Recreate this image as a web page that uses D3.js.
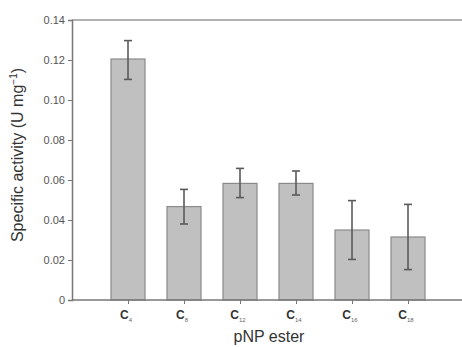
<!DOCTYPE html>
<html>
<head>
<meta charset="utf-8">
<script src="https://cdn.jsdelivr.net/npm/d3@7"></script>
<style>
  body { margin: 0; background: #fff; }
  svg { font-family: "Liberation Sans", Arial, sans-serif; }
</style>
</head>
<body>
<div id="content"></div>
<script>
// chain lengths of the pNP esters
const esters = ["4", "8", "12", "14", "16", "18"];
const activity = [0.1205, 0.0467, 0.0583, 0.0583, 0.035, 0.0315];
const errUpper = [0.1297, 0.0553, 0.0658, 0.0645, 0.0497, 0.0478];
const errLower = [0.1103, 0.038, 0.0512, 0.0525, 0.0203, 0.0152];
const yTicks = [0, 0.02, 0.04, 0.06, 0.08, 0.10, 0.12, 0.14];

const svgWidth = 462, svgHeight = 347;
const margin = { top: 20, left: 72, bottom: 47 };

const svg = d3.select("#content")
    .append("svg")
    .attr("width", svgWidth)
    .attr("height", svgHeight);

const x = d3.scalePoint()
    .domain(esters)
    .range([margin.left, 464])
    .padding(1);

const y = d3.scaleLinear()
    .domain([0, 0.14])
    .range([svgHeight - margin.bottom, margin.top]);

const barW = 34;
const axisColor = "#777";

// top border of the frame
svg.append("line")
    .attr("x1", margin.left).attr("x2", svgWidth)
    .attr("y1", y(0.14)).attr("y2", y(0.14))
    .attr("stroke", "#999").attr("stroke-width", 1.5);

// bars
svg.append("g")
    .selectAll("rect")
    .data(esters)
    .join("rect")
    .attr("x", d => x(d) - barW / 2)
    .attr("y", (d, i) => y(activity[i]))
    .attr("width", barW)
    .attr("height", (d, i) => y(0) - y(activity[i]))
    .attr("fill", "#c0c0c0")
    .attr("stroke", "#8a8a8a")
    .attr("stroke-width", 1.2);

// error bars
const eb = svg.append("g")
    .attr("stroke", "#5a5a5a")
    .attr("stroke-width", 1.6);
esters.forEach((d, i) => {
    const cx = x(d);
    eb.append("line")
        .attr("x1", cx).attr("x2", cx)
        .attr("y1", y(errUpper[i])).attr("y2", y(errLower[i]));
    [errUpper[i], errLower[i]].forEach(v => {
        eb.append("line")
            .attr("x1", cx - 4).attr("x2", cx + 4)
            .attr("y1", y(v)).attr("y2", y(v));
    });
});

// y axis
const yAxis = svg.append("g")
    .attr("transform", `translate(${margin.left}, 0)`)
    .call(d3.axisLeft(y)
        .tickValues(yTicks)
        .tickSize(4)
        .tickFormat(d => d === 0 ? "0" : d3.format(".2f")(d)));
yAxis.select(".domain").attr("stroke", axisColor).attr("stroke-width", 1.5);
yAxis.selectAll(".tick line").attr("stroke", axisColor);
yAxis.selectAll(".tick text")
    .attr("fill", "#555")
    .style("font-size", "11px");

// x axis
const xAxis = svg.append("g")
    .attr("transform", `translate(0, ${y(0)})`)
    .call(d3.axisBottom(x).tickSize(4).tickSizeOuter(0).tickFormat(""));
xAxis.select(".domain")
    .attr("d", `M${margin.left},0H${svgWidth}`)
    .attr("stroke", axisColor).attr("stroke-width", 1.5);
xAxis.selectAll(".tick line").attr("stroke", axisColor);

// C_n tick labels
const labels = svg.append("g")
    .selectAll("text")
    .data(esters)
    .join("text")
    .attr("x", d => x(d) - 2)
    .attr("y", y(0) + 19)
    .attr("text-anchor", "middle")
    .attr("fill", "#333")
    .style("font-size", "12px");
labels.append("tspan").style("font-weight", "bold").text("C");
labels.append("tspan")
    .attr("dy", 3)
    .style("font-size", "6px")
    .attr("fill", "#666")
    .text(d => d);

// axis titles
svg.append("text")
    .text("pNP ester")
    .attr("x", 269)
    .attr("y", 342)
    .attr("text-anchor", "middle")
    .attr("fill", "#333")
    .style("font-size", "16px");

const yTitle = svg.append("text")
    .attr("transform", `translate(23, 155) rotate(-90)`)
    .attr("text-anchor", "middle")
    .attr("fill", "#333")
    .style("font-size", "16px");
yTitle.append("tspan").text("Specific activity (U mg");
yTitle.append("tspan").attr("dy", -6).style("font-size", "10px").text("\u22121");
yTitle.append("tspan").attr("dy", 6).text(")");
</script>
</body>
</html>
